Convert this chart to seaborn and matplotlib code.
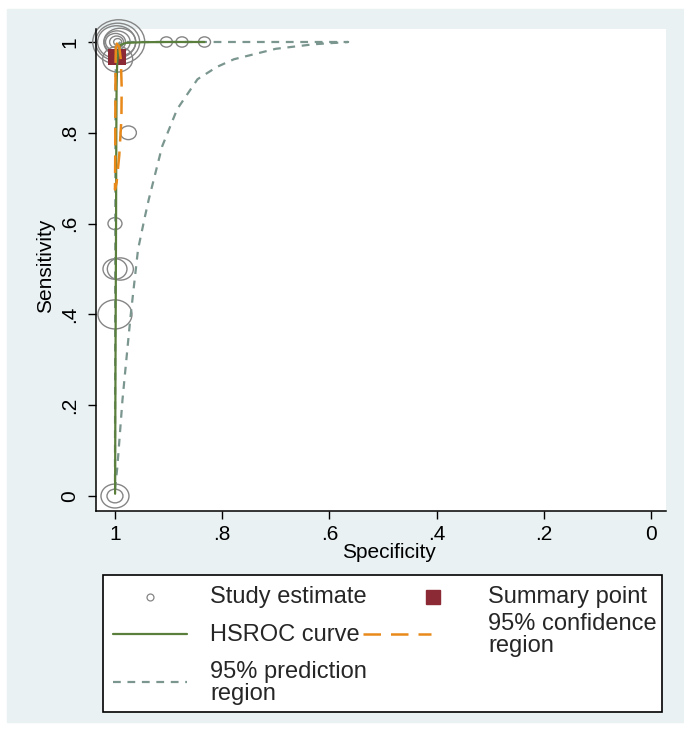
import numpy as np
import pandas as pd
import matplotlib
matplotlib.use("Agg")
import matplotlib.pyplot as plt
from matplotlib.lines import Line2D
from matplotlib.patches import Rectangle
from matplotlib.path import Path
import seaborn as sns

# Study estimates (specificity, sensitivity, relative weight)
study_spec = [0.993, 0.995, 0.997, 0.991, 0.996, 0.999, 0.997, 0.995,
              0.904, 0.875, 0.833, 0.995, 0.975, 1.000, 1.000, 0.990,
              1.000, 1.000, 1.000]
study_sens = [1.000, 1.000, 1.000, 1.000, 1.000, 1.000, 1.000, 1.000,
              1.000, 1.000, 1.000, 0.962, 0.800, 0.600, 0.500, 0.500,
              0.400, 0.000, 0.000]
study_weight = [26, 22, 19, 16, 13, 10, 7, 4,
                6, 6, 6, 15, 8, 7, 12, 13,
                17, 14, 8]

# Summary point
summary_spec = [0.997]
summary_sens = [0.968]

# HSROC curve
hsroc_spec = [0.9998, 0.999, 0.998, 0.9975, 0.997, 0.996, 0.994, 0.990,
              0.980, 0.950, 0.900, 0.833]
hsroc_sens = [0.005, 0.300, 0.600, 0.800, 0.900, 0.950, 0.980, 0.993,
              0.998, 0.9995, 1.000, 1.000]

# 95% confidence region
conf_spec = [0.998, 0.992, 0.989, 0.9875, 0.988, 0.992, 0.997, 1.000,
             0.9995, 0.9993, 0.999, 0.9985, 0.998]
conf_sens = [0.998, 0.990, 0.960, 0.900, 0.830, 0.750, 0.690, 0.675,
             0.750, 0.850, 0.930, 0.980, 0.998]

# 95% prediction region
pred_spec = [1.000, 0.9955, 0.986, 0.977, 0.971, 0.957, 0.944, 0.937,
             0.912, 0.884, 0.846, 0.810, 0.778, 0.700, 0.629, 0.565,
             0.700, 0.900, 0.990, 0.998, 0.999, 0.9995, 1.000]
pred_sens = [0.014, 0.065, 0.212, 0.322, 0.395, 0.543, 0.616, 0.653,
             0.770, 0.852, 0.918, 0.945, 0.962, 0.985, 0.995, 1.000,
             1.000, 1.000, 1.000, 0.990, 0.900, 0.500, 0.014]

tick_vals = [1, 0.8, 0.6, 0.4, 0.2, 0]
tick_text = ["1", ".8", ".6", ".4", ".2", "0"]

legend_labels = ["Study estimate", "Summary point", "HSROC curve",
                 "95% confidence\nregion", "95% prediction\nregion"]

c_study = "#858585"
c_summary = "#8b2a35"
c_hsroc = "#5a7f3c"
c_conf = "#e8891a"
c_pred = "#7a968f"

sns.set_style("ticks")
plt.rcParams["font.family"] = ["Liberation Sans", "DejaVu Sans"]

W, H = 684, 731


def fx(px):
    return px / W


def fy(py):
    return 1 - py / H


# the source picture is stretched horizontally, so circles are ellipses
circ = Path.unit_circle()
ellipse = Path(circ.vertices * np.array([1.17, 1.0]), circ.codes)
wide_square = Path([(-1.13, -1), (1.13, -1), (1.13, 1), (-1.13, 1), (-1.13, -1)],
                   [Path.MOVETO, Path.LINETO, Path.LINETO, Path.LINETO,
                    Path.CLOSEPOLY])

fig = plt.figure(figsize=(W / 100, H / 100), dpi=100)
fig.patch.set_facecolor("white")
fig.add_artist(Rectangle((fx(7), fy(722)), fx(677), 713 / H,
                         transform=fig.transFigure, color="#e9f1f3", zorder=0))

ax = fig.add_axes([fx(96), fy(511), fx(570), 482 / H])
ax.set_facecolor("white")

studies = pd.DataFrame({"spec": study_spec, "sens": study_sens,
                        "w": study_weight})
sizes = (2 * 0.72 * studies["w"]) ** 2

sns.scatterplot(data=studies, x="spec", y="sens", s=sizes, marker=ellipse,
                color=c_study, facecolor="none", edgecolor=c_study,
                linewidth=1.0, ax=ax, zorder=2, clip_on=False, legend=False)
sns.scatterplot(x=summary_spec, y=summary_sens, marker=wide_square, s=150,
                color=c_summary, edgecolor=c_summary, linewidth=0,
                ax=ax, zorder=3, legend=False)
sns.lineplot(x=pred_spec, y=pred_sens, sort=False, estimator=None, ax=ax,
             color=c_pred, linewidth=1.6, zorder=4)
ax.lines[-1].set_dashes([3.5, 3])
sns.lineplot(x=hsroc_spec, y=hsroc_sens, sort=False, estimator=None, ax=ax,
             color=c_hsroc, linewidth=1.6, zorder=5)
sns.lineplot(x=conf_spec, y=conf_sens, sort=False, estimator=None, ax=ax,
             color=c_conf, linewidth=1.8, zorder=6)
ax.lines[-1].set_dashes([7, 4])

ax.set_xlim(1.0354, -0.028)
ax.set_ylim(-0.033, 1.0286)
ax.set_xticks(tick_vals)
ax.set_xticklabels(tick_text)
ax.set_yticks(tick_vals)
ax.set_yticklabels(tick_text, rotation=90, va="center")
ax.tick_params(axis="both", length=6, width=1, color="black",
               labelsize=15, labelcolor="black")
ax.tick_params(axis="x", pad=4)
ax.tick_params(axis="y", pad=6)

sns.despine(ax=ax)
for side in ["left", "bottom"]:
    ax.spines[side].set_color("black")
    ax.spines[side].set_linewidth(1.1)

ax.set_xlabel("Specificity", fontsize=15, color="black")
ax.set_ylabel("Sensitivity", fontsize=15, color="black")
ax.xaxis.set_label_coords(0.514, -0.087)
ax.xaxis.label.set_va("center")
ax.yaxis.set_label_coords(-0.0877, 0.508)
ax.yaxis.label.set_va("center")

# legend laid out like Stata's: two columns, rows aligned across columns
fig.add_artist(Rectangle((fx(103), fy(712)), fx(559), 137 / H,
                         transform=fig.transFigure, facecolor="white",
                         edgecolor="black", linewidth=1.2, zorder=3))
keys = [
    Line2D([fx(150)], [fy(597)], linestyle="none", marker="o", markersize=5,
           markerfacecolor="none", markeredgecolor=c_study,
           markeredgewidth=0.9),
    Line2D([fx(433)], [fy(597)], linestyle="none", marker="s",
           markersize=10.5, color=c_summary),
    Line2D([fx(113), fx(187)], [fy(634), fy(634)], color=c_hsroc,
           linewidth=1.6),
    Line2D([fx(363), fx(431)], [fy(634), fy(634)], color=c_conf,
           linewidth=1.8, dashes=[7, 4]),
    Line2D([fx(113), fx(187)], [fy(682), fy(682)], color=c_pred,
           linewidth=1.6, dashes=[3.5, 3]),
]
label_pos = [(210, 597), (488, 597), (210, 635), (488, 635), (210, 683)]
for key, text, (px, py) in zip(keys, legend_labels, label_pos):
    key.set_transform(fig.transFigure)
    key.set_zorder(4)
    fig.add_artist(key)
    fig.text(fx(px), fy(py), text, fontsize=17, ha="left", va="center",
             linespacing=0.95, zorder=4)

fig.savefig("out.png", dpi=100)
